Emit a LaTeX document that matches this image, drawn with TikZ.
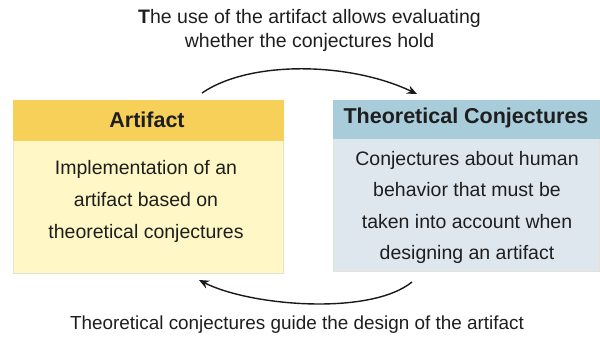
\documentclass[tikz,border=0pt]{standalone}
\usepackage{fontspec}
\setmainfont{Liberation Sans}
\usetikzlibrary{arrows.meta}
\definecolor{yhead}{HTML}{F7D05A}
\definecolor{ybody}{HTML}{FFF8C6}
\definecolor{bhead}{HTML}{A9CCDB}
\definecolor{bbody}{HTML}{DEE6EE}
\definecolor{txt}{HTML}{1E1E1E}
\definecolor{edge}{HTML}{E6E2D2}
\tikzset{
  box/.style={draw=edge, line width=0.6pt, inner sep=0pt, anchor=north west},
  headtxt/.style={font=\fontsize{21.5}{26}\selectfont\bfseries, text=txt, inner sep=0pt},
  bodytxt/.style={font=\fontsize{19.5}{31.6}\selectfont, text=txt, align=center, inner sep=0pt},
  captxt/.style={font=\fontsize{19.5}{24}\selectfont, text=txt, align=center, inner sep=0pt},
  flow/.style={line width=1.4pt, draw=black!90, -{Stealth[length=10pt,width=8.5pt]}}
}
\begin{document}
\begin{tikzpicture}[x=1pt,y=-1pt]
\useasboundingbox (0,0) rectangle (600,340);
% boxes
\node[box, fill=ybody, minimum width=270pt, minimum height=133pt] (aBody) at (13,140) {};
\node[box, fill=yhead, draw=yhead, minimum width=270pt, minimum height=40pt] (aHead) at (13,100) {};
\node[box, fill=bbody, minimum width=266pt, minimum height=133pt] (tBody) at (333,138) {};
\node[box, fill=bhead, draw=bhead, minimum width=266pt, minimum height=38pt] (tHead) at (333,100) {};
% headers
\node[headtxt] (aTitle) at (147,120) {Artifact};
\node[headtxt] (tTitle) at (466,118) {Theoretical Conjectures};
% bodies
\node[bodytxt] (aText) at (146,201.5) {Implementation of an\\artifact based on\\theoretical conjectures};
\node[bodytxt] (tText) at (467,207.5) {Conjectures about human\\behavior that must be\\taken into account when\\designing an artifact};
% captions
\node[captxt] (topCap) at (309.5,30) {\textbf{T}he use of the artifact allows evaluating\\whether the conjectures hold};
\node[captxt, font=\fontsize{18.9}{24}\selectfont] (botCap) at (297,325) {Theoretical conjectures guide the design of the artifact};
% connectors
\coordinate (s1) at (202,93);
\coordinate (e1) at (417,94);
\coordinate (s2) at (412,282);
\coordinate (e2) at (199,280);
\draw[flow] (s1) .. controls (250,60) and (350,62) .. (e1);
\draw[flow] (s2) .. controls (370,316) and (250,306) .. (e2);
\end{tikzpicture}
\end{document}
